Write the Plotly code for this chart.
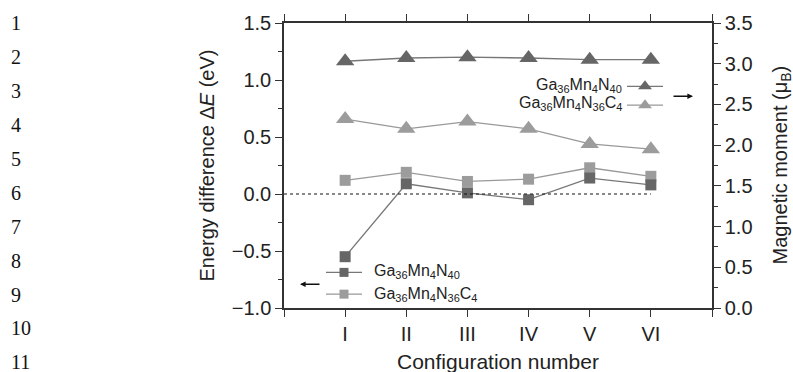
import plotly.graph_objects as go

configs = ["I", "II", "III", "IV", "V", "VI"]
xpos = [1, 2, 3, 4, 5, 6]
energy_N40 = [-0.55, 0.09, 0.01, -0.05, 0.14, 0.08]
energy_C4 = [0.12, 0.19, 0.11, 0.13, 0.23, 0.155]
moment_N40 = [3.03, 3.07, 3.08, 3.07, 3.05, 3.05]
moment_C4 = [2.32, 2.20, 2.29, 2.20, 2.015, 1.95]
line_numbers = [str(i) for i in range(1, 12)]

DARK = "#666666"
LIGHT = "#9c9c9c"
AX = "#333333"
FONT = "Liberation Sans, Arial, sans-serif"

def sub(t):
    return "<sub><span style='font-size:11px'>" + t + "</span></sub>"

name1 = "Ga" + sub("36") + "Mn" + sub("4") + "N" + sub("40")
name2 = "Ga" + sub("36") + "Mn" + sub("4") + "N" + sub("36") + "C" + sub("4")

# plot area in pixels: x 284..712, y 20..308
PL, PR, PT, PB = 284, 712, 20, 308
def px(x):
    return (x - PL) / (PR - PL)
def py(y):
    return (PB - y) / (PB - PT)

fig = go.Figure()
fig.add_trace(go.Scatter(x=xpos, y=moment_N40, mode="lines+markers", yaxis="y2",
                         line=dict(color="#777777", width=1.3),
                         marker=dict(symbol="triangle-up", size=16, color=DARK), showlegend=False))
fig.add_trace(go.Scatter(x=xpos, y=moment_C4, mode="lines+markers", yaxis="y2",
                         line=dict(color="#999999", width=1.3),
                         marker=dict(symbol="triangle-up", size=16, color=LIGHT), showlegend=False))
fig.add_trace(go.Scatter(x=xpos, y=energy_C4, mode="lines+markers",
                         line=dict(color="#999999", width=1.3),
                         marker=dict(symbol="square", size=11, color=LIGHT), showlegend=False))
fig.add_trace(go.Scatter(x=xpos, y=energy_N40, mode="lines+markers",
                         line=dict(color="#777777", width=1.3),
                         marker=dict(symbol="square", size=11, color=DARK), showlegend=False))

# legend samples in pixel-like overlay coordinates
def sample(xc, yc, sym, size, color, lcolor):
    fig.add_trace(go.Scatter(x=[xc - 18, xc, xc + 18], y=[yc, yc, yc], mode="lines",
                             xaxis="x3", yaxis="y3", line=dict(color=lcolor, width=1.3),
                             showlegend=False, hoverinfo="skip"))
    fig.add_trace(go.Scatter(x=[xc], y=[yc], mode="markers", xaxis="x3", yaxis="y3",
                             marker=dict(symbol=sym, size=size, color=color),
                             showlegend=False, hoverinfo="skip"))

sample(344, 272, "square", 9, DARK, "#777777")
sample(344, 294, "square", 9, LIGHT, "#999999")
sample(645, 84, "triangle-up", 12, DARK, "#777777")
sample(645, 103, "triangle-up", 12, LIGHT, "#999999")

def add_text(x, y, text, size=16, xanchor="center", yanchor="middle", angle=0, family=FONT, color="#222"):
    fig.add_annotation(x=px(x), y=py(y), xref="paper", yref="paper", text=text, showarrow=False,
                       xanchor=xanchor, yanchor=yanchor, textangle=angle,
                       font=dict(family=family, size=size, color=color))

add_text(372, 271, name1, xanchor="left")
add_text(372, 294, name2, xanchor="left")
add_text(624, 83, name1, xanchor="right")
add_text(624, 101, name2, xanchor="right")

# arrows
fig.add_annotation(x=300, y=284, ax=321, ay=284, xref="x3", yref="y3", axref="x3", ayref="y3",
                   text="", showarrow=True, arrowhead=2, arrowsize=0.8, arrowwidth=1.4, arrowcolor="#111")
fig.add_annotation(x=693, y=94, ax=672, ay=94, xref="x3", yref="y3", axref="x3", ayref="y3",
                   text="", showarrow=True, arrowhead=2, arrowsize=0.8, arrowwidth=1.4, arrowcolor="#111")

# axis titles
add_text(206, 164, "Energy difference Δ<i>E</i> (eV)", size=20, angle=-90)
add_text(781, 164, "Magnetic moment (μ<sub>B</sub>)", size=20, angle=-90)
add_text(498, 362, "Configuration number", size=21)

# line numbers
for i, t in enumerate(line_numbers):
    add_text(9, 20 + i * 34.3, t, size=20, xanchor="left",
             family="Liberation Serif, Times New Roman, serif", color="#111")

# zero dotted line
fig.add_shape(type="line", x0=0, x1=6, y0=0, y1=0, xref="x", yref="y",
              line=dict(color="#111", width=1, dash="dot"))

tickfont = dict(family=FONT, size=20, color="#222")
fig.update_layout(
    width=793, height=372,
    margin=dict(l=PL, r=793 - PR, t=PT, b=372 - PB),
    paper_bgcolor="white", plot_bgcolor="white",
    xaxis=dict(range=[0, 7], tickvals=[0] + xpos + [7], ticktext=[""] + configs + [""],
               ticks="outside", ticklen=7, tickwidth=1.3, tickcolor=AX,
               showline=True, linecolor=AX, linewidth=1.5, mirror="ticks",
               showgrid=False, zeroline=False, tickfont=tickfont),
    yaxis=dict(range=[-1.0, 1.5], dtick=0.5, tick0=0, tickformat=".1f",
               ticks="outside", ticklen=7, tickwidth=1.3, tickcolor=AX,
               minor=dict(dtick=0.25, ticks="outside", ticklen=4, tickcolor=AX),
               showline=True, linecolor=AX, linewidth=1.5, showgrid=False, zeroline=False,
               tickfont=tickfont),
    yaxis2=dict(range=[0, 3.5], dtick=0.5, tick0=0, tickformat=".1f", overlaying="y", side="right",
                ticks="outside", ticklen=7, tickwidth=1.3, tickcolor=AX,
                minor=dict(dtick=0.25, ticks="outside", ticklen=4, tickcolor=AX),
                showline=True, linecolor=AX, linewidth=1.5, showgrid=False, zeroline=False,
                tickfont=tickfont),
    xaxis3=dict(range=[PL, PR], overlaying="x", visible=False, anchor="y3"),
    yaxis3=dict(range=[PB, PT], overlaying="y", visible=False, anchor="x3"),
)

fig.write_html("out.html")
